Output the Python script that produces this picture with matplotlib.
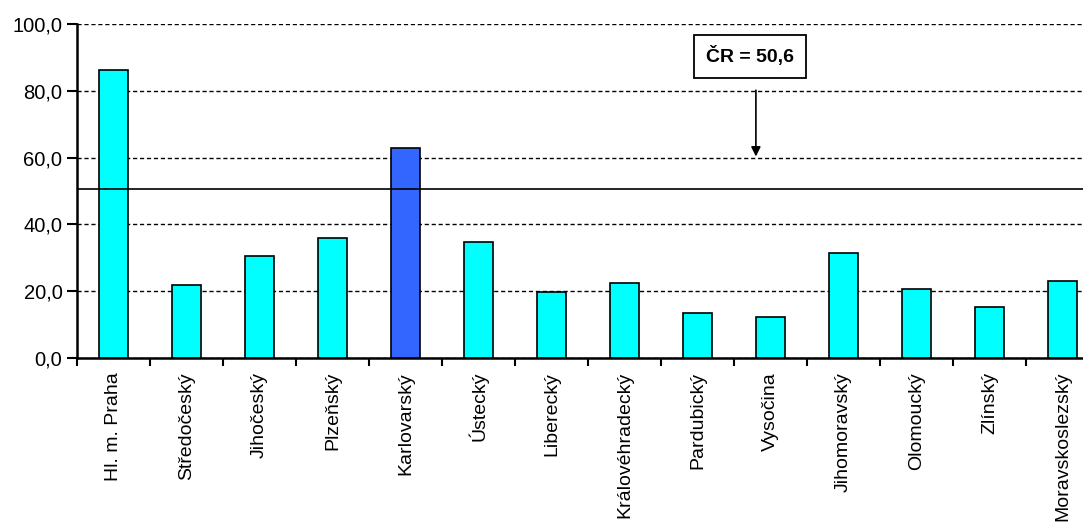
import numpy as np
import matplotlib.pyplot as plt

plt.rcParams['font.family'] = ['Liberation Sans', 'DejaVu Sans']

kraje = ['Hl. m. Praha', 'Středočeský', 'Jihočeský', 'Plzeňský', 'Karlovarský',
         'Ústecký', 'Liberecký', 'Královéhradecký', 'Pardubický', 'Vysočina',
         'Jihomoravský', 'Olomoucký', 'Zlínský', 'Moravskoslezský']
hodnoty = [86.2, 21.9, 30.5, 35.9, 62.9, 34.7, 19.8, 22.5, 13.5, 12.3,
           31.4, 20.7, 15.3, 23.1]
cr = 50.6
zvyraznit = 'Karlovarský'

fig = plt.figure(figsize=(10.83, 5.25), dpi=100)
ax = fig.add_axes([77 / 1083, 1 - 358 / 525, 1022 / 1083, 334 / 525])

x = np.arange(len(kraje))
barvy = ['#3366ff' if k == zvyraznit else '#00ffff' for k in kraje]
ax.bar(x, hodnoty, width=0.41, color=barvy, edgecolor='black', linewidth=1.2, zorder=3)

# průměr za ČR
ax.axhline(cr, color='black', linewidth=1.2, zorder=4)
ax.annotate('', xy=(8.8, 59.5), xytext=(8.8, 81),
            arrowprops=dict(arrowstyle='-|>', color='black', lw=1.2, mutation_scale=14),
            zorder=5)
ax.text(8.72, 90.3, 'ČR = 50,6', ha='center', va='center', fontsize=14, fontweight='bold',
        bbox=dict(boxstyle='square,pad=0.6', facecolor='white', edgecolor='black', linewidth=1.3),
        zorder=5)

ax.set_xlim(-0.5, len(kraje) - 0.5)
ax.set_ylim(0, 100)
ax.set_yticks(np.arange(0, 101, 20))
ax.set_yticklabels([f'{v:.1f}'.replace('.', ',') for v in np.arange(0, 101, 20)], fontsize=14.5)
ax.yaxis.grid(True, linestyle=(0, (3, 2)), color='black', linewidth=1.0)
ax.set_axisbelow(True)

ax.set_xticks(x - 0.5, minor=False)
ax.set_xticklabels([])
ax.set_xticks(x, minor=True)
ax.set_xticklabels(kraje, minor=True, rotation=90, fontsize=14, va='top')
ax.tick_params(axis='x', which='minor', length=0, pad=10)
ax.tick_params(axis='x', which='major', length=6, width=1.5, direction='out')
ax.tick_params(axis='y', length=7, width=1.5, direction='out')

for s in ['top', 'right']:
    ax.spines[s].set_visible(False)
ax.spines['left'].set_linewidth(1.8)
ax.spines['bottom'].set_linewidth(1.8)

fig.savefig('out.png', dpi=100)
